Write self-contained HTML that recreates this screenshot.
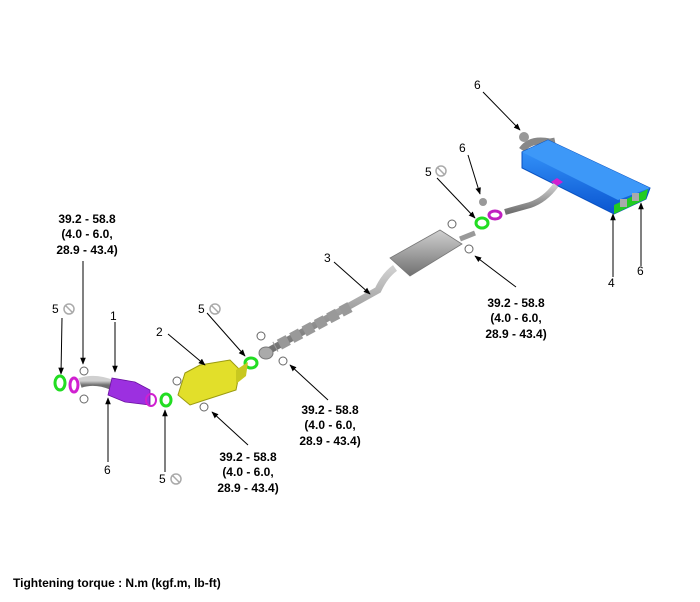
<!DOCTYPE html>
<html><head><meta charset="utf-8"><style>
html,body{margin:0;padding:0;background:#fff;}
svg{display:block;}
text{font-family:"Liberation Sans",Arial,sans-serif;fill:#000;}
.b{font-weight:bold;font-size:12px;text-anchor:middle;}
.n{font-size:12px;}
</style></head><body>
<svg width="700" height="602" viewBox="0 0 700 602" xmlns="http://www.w3.org/2000/svg">
<defs>
<marker id="a" viewBox="0 0 10 10" refX="9" refY="5" markerWidth="7" markerHeight="7" orient="auto"><path d="M0,1 L10,5 L0,9 Z" fill="#000"/></marker>
<linearGradient id="gr" x1="0" y1="0" x2="0" y2="1"><stop offset="0" stop-color="#d0d0d0"/><stop offset="1" stop-color="#707070"/></linearGradient>
<linearGradient id="bl" x1="0" y1="0" x2="0" y2="1"><stop offset="0" stop-color="#3a9bff"/><stop offset="1" stop-color="#0a55d0"/></linearGradient>
</defs>

<!-- rear muffler -->
<path d="M522,150 Q530,138 550,142 L555,141" stroke="#888" stroke-width="7" fill="none"/>
<polygon points="522,152 548,140 650,188 646,199 614,214 522,168" fill="url(#bl)" stroke="#0850c0" stroke-width="1"/>
<polygon points="522,152 548,140 650,188 618,200" fill="#3d98f8"/>
<polygon points="614,205 648,189 646,199 614,214" fill="#22cc22"/>
<rect x="620" y="199" width="7" height="8" fill="#aaa"/><rect x="632" y="193" width="7" height="8" fill="#aaa"/>
<polygon points="551,182 557,178 563,182 557,186" fill="#d020d0"/>
<path d="M556,185 Q545,200 530,205 L505,212" stroke="url(#gr)" stroke-width="6" fill="none"/>
<ellipse cx="495" cy="215" rx="6" ry="4" fill="none" stroke="#c020c0" stroke-width="3"/>
<circle cx="483" cy="202" r="4" fill="#999"/>
<circle cx="524" cy="137" r="5" fill="#999"/>
<ellipse cx="482" cy="223" rx="6" ry="5" fill="none" stroke="#22dd22" stroke-width="3"/>

<!-- center muffler & pipe -->
<path d="M395,268 Q385,275 378,290 L270,350" stroke="url(#gr)" stroke-width="7" fill="none"/>
<path d="M350,307 L275,347" stroke="#999" stroke-width="11" fill="none" stroke-dasharray="10,4"/>
<polygon points="390,258 440,230 462,244 410,276" fill="url(#gr)" stroke="#777" stroke-width="0.8"/>
<path d="M460,239 L475,233" stroke="#999" stroke-width="5"/>
<ellipse cx="266" cy="353" rx="7" ry="6" fill="#aaa" stroke="#777"/>
<circle cx="261" cy="336" r="4" fill="none" stroke="#666"/>
<circle cx="283" cy="361" r="4" fill="none" stroke="#666"/>
<circle cx="452" cy="224" r="4" fill="none" stroke="#666"/>
<circle cx="469" cy="249" r="4" fill="none" stroke="#666"/>
<ellipse cx="251" cy="363" rx="6" ry="5" fill="none" stroke="#22dd22" stroke-width="3"/>

<!-- cat 2 -->
<polygon points="185,373 200,365 230,360 240,370 236,390 205,400 190,405 178,395" fill="#e2df2a" stroke="#9a9a10" stroke-width="1"/>
<polygon points="236,370 248,362 246,376 236,384" fill="#c8c820"/>
<circle cx="177" cy="381" r="4" fill="none" stroke="#666"/>
<circle cx="204" cy="407" r="4" fill="none" stroke="#666"/>
<ellipse cx="166" cy="400" rx="5" ry="6" fill="none" stroke="#22dd22" stroke-width="3"/>

<!-- pipe 1 -->
<path d="M80,383 Q95,378 112,385" stroke="url(#gr)" stroke-width="10" fill="none"/>
<polygon points="112,378 135,382 150,390 150,405 125,402 108,395" fill="#9c30e0" stroke="#6a10a0" stroke-width="0.8"/>
<ellipse cx="151" cy="400" rx="5" ry="6" fill="none" stroke="#d020d0" stroke-width="2"/>
<ellipse cx="74" cy="385" rx="4" ry="7" fill="none" stroke="#d020d0" stroke-width="3"/>
<circle cx="84" cy="371" r="4" fill="none" stroke="#666"/>
<circle cx="84" cy="399" r="4" fill="none" stroke="#666"/>
<ellipse cx="60" cy="383" rx="5" ry="7" fill="none" stroke="#22dd22" stroke-width="3"/>

<!-- arrows -->
<g stroke="#000" stroke-width="1" fill="none" marker-end="url(#a)">
<line x1="483" y1="92" x2="520" y2="130"/>
<line x1="468" y1="155" x2="480" y2="194"/>
<line x1="437" y1="178" x2="475" y2="218"/>
<line x1="334" y1="262" x2="370" y2="294"/>
<line x1="516" y1="287" x2="475" y2="256"/>
<line x1="613" y1="277" x2="613" y2="214"/>
<line x1="641" y1="266" x2="641" y2="203"/>
<line x1="83" y1="261" x2="83" y2="364"/>
<line x1="62" y1="318" x2="61" y2="374"/>
<line x1="115" y1="322" x2="115" y2="372"/>
<line x1="168" y1="334" x2="205" y2="365"/>
<line x1="207" y1="313" x2="245" y2="356"/>
<line x1="108" y1="462" x2="108" y2="398"/>
<line x1="165" y1="472" x2="165" y2="410"/>
<line x1="248" y1="445" x2="212" y2="412"/>
<line x1="328" y1="400" x2="290" y2="365"/>
</g>

<!-- labels -->
<g class="n">
<text x="474" y="89">6</text>
<text x="459" y="152">6</text>
<text x="425" y="176">5</text>
<text x="324" y="262">3</text>
<text x="608" y="287">4</text>
<text x="637" y="275">6</text>
<text x="52" y="313">5</text>
<text x="110" y="320">1</text>
<text x="156" y="336">2</text>
<text x="198" y="313">5</text>
<text x="104" y="474">6</text>
<text x="159" y="483">5</text>
</g>
<g fill="none" stroke="#aaa" stroke-width="1.5">
<circle cx="441" cy="171" r="5"/><line x1="437" y1="167" x2="445" y2="175"/>
<circle cx="69" cy="309" r="5"/><line x1="65" y1="305" x2="73" y2="313"/>
<circle cx="215" cy="309" r="5"/><line x1="211" y1="305" x2="219" y2="313"/>
<circle cx="176" cy="479" r="5"/><line x1="172" y1="475" x2="180" y2="483"/>
</g>

<g class="b">
<text x="87" y="223">39.2 - 58.8</text><text x="87" y="238">(4.0 - 6.0,</text><text x="87" y="254">28.9 - 43.4)</text>
<text x="516" y="307">39.2 - 58.8</text><text x="516" y="322">(4.0 - 6.0,</text><text x="516" y="338">28.9 - 43.4)</text>
<text x="330" y="414">39.2 - 58.8</text><text x="330" y="429">(4.0 - 6.0,</text><text x="330" y="445">28.9 - 43.4)</text>
<text x="248" y="461">39.2 - 58.8</text><text x="248" y="476">(4.0 - 6.0,</text><text x="248" y="492">28.9 - 43.4)</text>
</g>
<text x="13" y="587" style="font-weight:bold;font-size:12px">Tightening torque : N.m (kgf.m, lb-ft)</text>
</svg>
</body></html>
